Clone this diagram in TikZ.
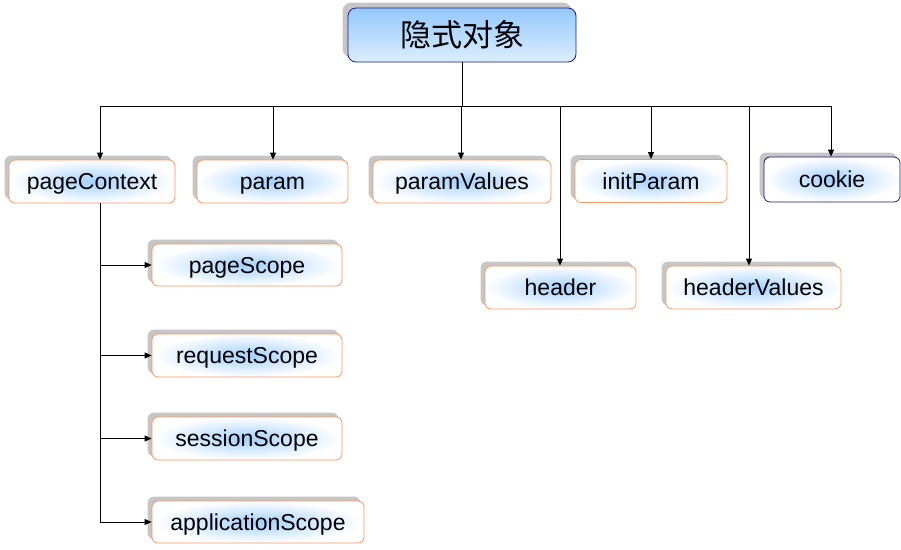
\documentclass[tikz,border=0pt]{standalone}
\usepackage{fontspec}
\setmainfont{Liberation Sans}
\newfontfamily\cjkfont{Noto Sans CJK SC}
\usetikzlibrary{arrows.meta,shadows}
\definecolor{orangeborder}{RGB}{250,150,100}
\definecolor{navyborder}{RGB}{25,25,130}
\definecolor{glow}{RGB}{165,208,255}
\definecolor{shadowgray}{RGB}{198,198,198}
\definecolor{topblue}{RGB}{150,200,255}
\definecolor{toplight}{RGB}{220,238,255}
\tikzset{
  box/.style={draw=orangeborder, line width=0.8pt, rounded corners=6pt, fill=white,
    path picture={\shade[inner color=glow, outer color=white]
      (path picture bounding box.south west) rectangle (path picture bounding box.north east);},
    general shadow={shadow xshift=-4pt, shadow yshift=4pt, fill=shadowgray, draw=shadowgray},
    font=\fontsize{23}{26}\selectfont, text height=16.5pt, text depth=0pt,
    minimum height=43pt, inner sep=0pt},
  navybox/.style={box, draw=navyborder},
  topbox/.style={draw=navyborder, line width=0.8pt, rounded corners=8pt, fill=white,
    path picture={\shade[top color=topblue, bottom color=toplight]
      (path picture bounding box.south west) rectangle (path picture bounding box.north east);},
    general shadow={shadow xshift=-5pt, shadow yshift=5pt, fill=shadowgray, draw=shadowgray},
    font=\cjkfont\fontsize{31}{34}\selectfont, minimum width=228pt, minimum height=54pt, inner sep=0pt},
  conn/.style={line width=0.8pt, black},
  arr/.style={conn, -{Triangle[length=7pt,width=6pt]}}
}
\begin{document}
\begin{tikzpicture}[x=1pt,y=-1pt]
\useasboundingbox (0,0) rectangle (901,549);
\node[topbox] (top) at (462,35) {隐式对象};
\node[box, minimum width=166pt] (pc) at (92,181.5) {pageContext};
\node[box, minimum width=151pt] (param) at (272.5,181.5) {param};
\node[box, minimum width=178pt] (pv) at (462,181.5) {paramValues};
\node[box, minimum width=152pt] (ip) at (651,181) {initParam};
\node[navybox, minimum width=136pt, minimum height=45pt] (cookie) at (832,179.5) {cookie};
\node[box, minimum width=151pt] (header) at (560.5,287.5) {header};
\node[box, minimum width=175pt] (hv) at (753.5,287.5) {headerValues};
\node[box, minimum width=190pt, minimum height=42pt] (ps) at (247,265) {pageScope};
\node[box, minimum width=190pt] (rs) at (247,355.5) {requestScope};
\node[box, minimum width=190pt] (ss) at (247,438.5) {sessionScope};
\node[box, minimum width=212pt, minimum height=42pt] (as) at (258,522) {applicationScope};

\coordinate (hub) at (462,106);
\coordinate (b1) at (100,106);
\coordinate (b2) at (273,106);
\coordinate (b3) at (461,106);
\coordinate (b4) at (560,106);
\coordinate (b5) at (651,106);
\coordinate (b6) at (749,106);
\coordinate (b7) at (831,106);
\draw[conn] (top.south) -- (hub);
\draw[conn] (b1) -- (b7);
\draw[arr] (b1) -- (b1 |- pc.north);
\draw[arr] (b2) -- (b2 |- param.north);
\draw[arr] (b3) -- (b3 |- pv.north);
\draw[arr] (b4) -- (b4 |- header.north);
\draw[arr] (b5) -- (b5 |- ip.north);
\draw[arr] (b6) -- (b6 |- hv.north);
\draw[arr] (b7) -- (b7 |- cookie.north);

\coordinate (v0) at (100,203);
\coordinate (v4) at (100,522);
\draw[conn] (v0) -- (v4);
\draw[arr] (v0 |- ps.west) -- (ps.west);
\draw[arr] (v0 |- rs.west) -- (rs.west);
\draw[arr] (v0 |- ss.west) -- (ss.west);
\draw[arr] (v4) -- (as.west);
\end{tikzpicture}
\end{document}
